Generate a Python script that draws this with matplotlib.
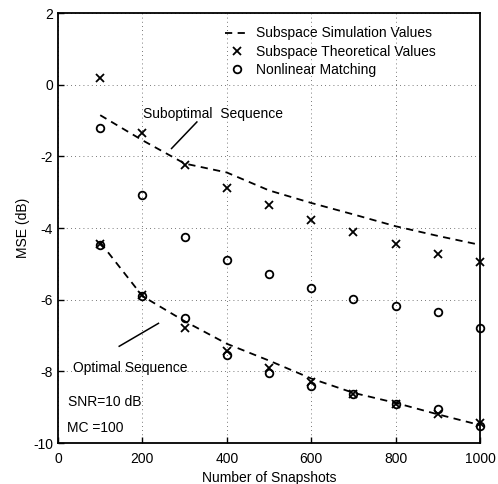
import matplotlib
matplotlib.use("Agg")
import matplotlib.pyplot as plt

plt.rcParams['font.family'] = ['Liberation Sans', 'DejaVu Sans']
plt.rcParams['axes.unicode_minus'] = False

snapshots = [100, 200, 300, 400, 500, 600, 700, 800, 900, 1000]

# Suboptimal sequence
sub_sim = [-0.85, -1.55, -2.2, -2.45, -2.95, -3.3, -3.62, -3.95, -4.22, -4.47]
sub_theo = [0.19, -1.34, -2.25, -2.89, -3.36, -3.78, -4.12, -4.45, -4.73, -4.95]
sub_nlm = [-1.22, -3.08, -4.26, -4.88, -5.27, -5.66, -5.97, -6.17, -6.35, -6.8]

# Optimal sequence
opt_sim = [-4.4, -5.9, -6.6, -7.23, -7.7, -8.2, -8.6, -8.88, -9.2, -9.5]
opt_theo = [-4.45, -5.88, -6.78, -7.42, -7.92, -8.3, -8.63, -8.9, -9.2, -9.43]
opt_nlm = [-4.47, -5.9, -6.5, -7.55, -8.05, -8.42, -8.63, -8.9, -9.05, -9.52]

legend_labels = ['Subspace Simulation Values', 'Subspace Theoretical Values', 'Nonlinear Matching']
xticks = [0, 200, 400, 600, 800, 1000]
yticks = [-10, -8, -6, -4, -2, 0, 2]

fig = plt.figure(figsize=(4.98, 4.84), dpi=100)
ax = fig.add_axes([0.1165, 0.0847, 0.8475, 0.8883])

dash = (0, (4.0, 3.0))
l1, = ax.plot(snapshots, sub_sim, color='black', lw=1.3, linestyle=dash)
ax.plot(snapshots, opt_sim, color='black', lw=1.3, linestyle=dash)
l2, = ax.plot(snapshots, sub_theo, 'x', color='black', ms=5.5, mew=1.3, clip_on=False)
ax.plot(snapshots, opt_theo, 'x', color='black', ms=5.5, mew=1.3, clip_on=False)
l3, = ax.plot(snapshots, sub_nlm, 'o', mfc='none', mec='black', ms=5.5, mew=1.3, clip_on=False)
ax.plot(snapshots, opt_nlm, 'o', mfc='none', mec='black', ms=5.5, mew=1.3, clip_on=False)

ax.set_xlim(0, 1000)
ax.set_ylim(-10, 2)
ax.set_xticks(xticks)
ax.set_yticks(yticks)
ax.tick_params(direction='in', length=4, width=1, labelsize=10, colors='black')
ax.tick_params(axis='x', pad=6.5)
ax.grid(True, linestyle=(0, (1, 4)), color='black', lw=0.6, alpha=0.7)
for s in ax.spines.values():
    s.set_linewidth(1.3)

ax.set_xlabel('Number of Snapshots', fontsize=10, labelpad=3.7)
ax.set_ylabel('MSE (dB)', fontsize=10, labelpad=2)

leg = ax.legend([l1, l2, l3], legend_labels, loc='upper left', bbox_to_anchor=(0.395, 0.969),
                frameon=False, fontsize=10, handlelength=1.8, handletextpad=0.45,
                labelspacing=0.3, borderpad=0, borderaxespad=0)

ax.text(201, -0.82, 'Suboptimal  Sequence', fontsize=10, va='center', ha='left')
ax.plot([329, 269], [-1.04, -1.78], color='black', lw=1.1)
ax.text(35, -7.92, 'Optimal Sequence', fontsize=10, va='center', ha='left')
ax.plot([238, 145], [-6.66, -7.3], color='black', lw=1.1)
ax.text(24, -8.86, 'SNR=10 dB', fontsize=10, va='center', ha='left')
ax.text(21, -9.57, 'MC =100', fontsize=10, va='center', ha='left')

fig.savefig('out.png', dpi=100)
